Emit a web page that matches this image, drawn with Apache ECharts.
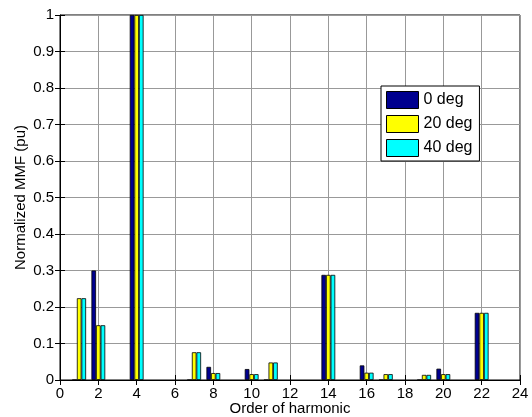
<!DOCTYPE html>
<html>
<head>
<meta charset="utf-8">
<script src="https://cdn.jsdelivr.net/npm/echarts@6/dist/echarts.min.js"></script>
<style>
  html, body { margin: 0; padding: 0; background: #fff; }
  #chart { width: 532px; height: 417px; }
</style>
</head>
<body>
<div id="chart"></div>
<script>
// harmonic orders that carry bars
const harmonics = [1, 2, 4, 7, 8, 10, 11, 14, 16, 17, 19, 20, 22];
// normalized MMF per skew angle
const deg0  = [0, 0.300, 1, 0, 0.036, 0.030, 0, 0.288, 0.040, 0, 0, 0.031, 0.184];
const deg20 = [0.224, 0.150, 1, 0.076, 0.019, 0.016, 0.048, 0.288, 0.020, 0.016, 0.014, 0.016, 0.184];
const deg40 = [0.224, 0.150, 1, 0.076, 0.019, 0.016, 0.048, 0.288, 0.020, 0.016, 0.014, 0.016, 0.184];
const seriesNames = ["0 deg", "20 deg", "40 deg"];
const seriesColors = ["#00008f", "#ffff00", "#00ffff"];

const font = "Liberation Sans, Arial, sans-serif";
const chart = echarts.init(document.getElementById("chart"));

const pairs = vals => vals.map((v, i) => [harmonics[i], v]);

const tickStyle = { show: true, inside: true, length: 5, lineStyle: { color: "#000" } };

const option = {
  animation: false,
  textStyle: { fontFamily: font },
  grid: {
    left: 60, right: 12, top: 15, bottom: 37,
    outerBoundsMode: "none",
    containLabel: false,
    show: true, borderColor: "#000", borderWidth: 1
  },
  legend: {
    left: 381, top: 86,
    orient: "vertical",
    backgroundColor: "#fff",
    borderColor: "#000", borderWidth: 1,
    padding: [5, 7, 4, 5],
    itemWidth: 32, itemHeight: 17, itemGap: 6,
    icon: "rect",
    itemStyle: { borderColor: "#000", borderWidth: 1 },
    textStyle: { fontSize: 16, color: "#000", fontFamily: font },
    data: seriesNames
  },
  xAxis: [
    {
      type: "value", min: 0, max: 24, interval: 2,
      name: "Order of harmonic", nameLocation: "middle", nameGap: 21,
      nameMoveOverlap: false,
      nameTextStyle: { fontSize: 15, color: "#000", fontFamily: font },
      axisLine: { show: true, lineStyle: { color: "#000" } },
      axisTick: tickStyle,
      axisLabel: { fontSize: 15, color: "#000", margin: 6 },
      splitLine: { show: true, lineStyle: { color: "#999", width: 1 } }
    },
    {
      type: "value", min: 0, max: 24, interval: 2, position: "top",
      axisLine: { show: false }, axisTick: tickStyle,
      axisLabel: { show: false }, splitLine: { show: false }
    }
  ],
  yAxis: [
    {
      type: "value", min: 0, max: 1, interval: 0.1,
      name: "Normalized MMF (pu)", nameLocation: "middle", nameGap: 32,
      nameMoveOverlap: false,
      nameTextStyle: { fontSize: 15, color: "#000", fontFamily: font },
      axisLine: { show: true, lineStyle: { color: "#000" } },
      axisTick: tickStyle,
      axisLabel: { fontSize: 15, color: "#000", margin: 6 },
      splitLine: { show: true, lineStyle: { color: "#999", width: 1 } }
    },
    {
      type: "value", min: 0, max: 1, interval: 0.1, position: "right",
      axisLine: { show: false }, axisTick: tickStyle,
      axisLabel: { show: false }, splitLine: { show: false }
    }
  ],
  series: [deg0, deg20, deg40].map((vals, i) => ({
    name: seriesNames[i],
    type: "bar",
    xAxisIndex: 0, yAxisIndex: 0,
    barWidth: 4.6,
    barGap: "0%",
    itemStyle: { color: seriesColors[i], borderColor: "#000", borderWidth: 0.8 },
    data: pairs(vals)
  }))
};

chart.setOption(option);
</script>
</body>
</html>
